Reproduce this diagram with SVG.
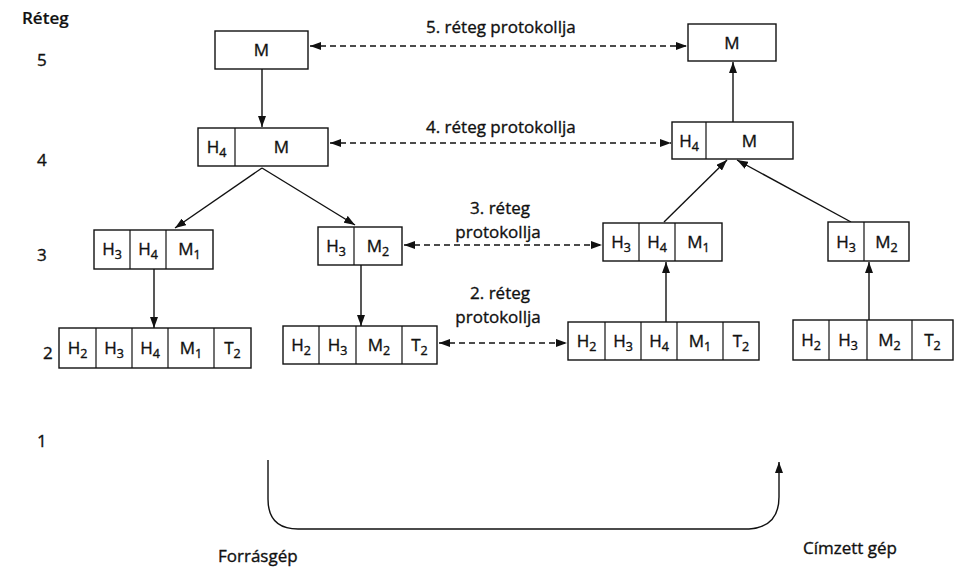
<svg xmlns="http://www.w3.org/2000/svg" width="958" height="567" viewBox="0 0 958 567">
  <style>
    text { font-family: "Open Sans", "Noto Sans", "DejaVu Sans", sans-serif; font-size: 17px; fill: #111; stroke: #111; stroke-width: 0.35; }
    .c { text-anchor: middle; }
    .bold { font-weight: 600; stroke-width: 0.2; }
    .sub { font-size: 12.5px; }
    .box { fill: #fff; stroke: #111; stroke-width: 1.4; }
    .div { stroke: #111; stroke-width: 1.2; }
    .ln { fill: none; stroke: #111; stroke-width: 1.4; }
    .dash { fill: none; stroke: #111; stroke-width: 1.3; stroke-dasharray: 6 4; }
  </style>
  <defs>
    <marker id="ah" viewBox="0 0 11 8" refX="11" refY="4" markerWidth="11" markerHeight="8" markerUnits="userSpaceOnUse" orient="auto">
      <path d="M0,0 L11,4 L0,8 Z" fill="#111"/>
    </marker>
    <marker id="ahs" viewBox="0 0 11 8" refX="0" refY="4" markerWidth="11" markerHeight="8" markerUnits="userSpaceOnUse" orient="auto">
      <path d="M11,0 L0,4 L11,8 Z" fill="#111"/>
    </marker>
  </defs>

  <!-- layer axis -->
  <g id="axis">
    <text class="bold" x="22" y="24">Réteg</text>
    <text x="37" y="66">5</text>
    <text x="37" y="166">4</text>
    <text x="37" y="261">3</text>
    <text x="43" y="359">2</text>
    <text x="37" y="447">1</text>
  </g>

  <!-- connectors -->
  <g id="connectors">
    <line class="ln" x1="262" y1="69" x2="262" y2="127" marker-end="url(#ah)"/>
    <line class="ln" x1="262" y1="168" x2="175" y2="228" marker-end="url(#ah)"/>
    <line class="ln" x1="262" y1="168" x2="355" y2="225" marker-end="url(#ah)"/>
    <line class="ln" x1="154" y1="269" x2="154" y2="328" marker-end="url(#ah)"/>
    <line class="ln" x1="361" y1="265" x2="361" y2="326" marker-end="url(#ah)"/>
    <line class="ln" x1="666" y1="322" x2="666" y2="262" marker-end="url(#ah)"/>
    <line class="ln" x1="869" y1="320" x2="869" y2="262" marker-end="url(#ah)"/>
    <line class="ln" x1="664" y1="222" x2="727" y2="160" marker-end="url(#ah)"/>
    <line class="ln" x1="851" y1="222" x2="737" y2="160" marker-end="url(#ah)"/>
    <line class="ln" x1="733" y1="122" x2="733" y2="62" marker-end="url(#ah)"/>
    <line class="dash" x1="310" y1="46" x2="687" y2="46" marker-start="url(#ahs)" marker-end="url(#ah)"/>
    <line class="dash" x1="330" y1="143" x2="671" y2="143" marker-start="url(#ahs)" marker-end="url(#ah)"/>
    <line class="dash" x1="404" y1="245" x2="602" y2="245" marker-start="url(#ahs)" marker-end="url(#ah)"/>
    <line class="dash" x1="439" y1="343" x2="567" y2="343" marker-start="url(#ahs)" marker-end="url(#ah)"/>
    <path class="ln" d="M268,460 V499 Q268,529 298,529 H749 Q779,527 779,497 V462" marker-end="url(#ah)"/>
  </g>

  <!-- protocol labels -->
  <g id="labels">
    <text x="426" y="33">5. réteg protokollja</text>
    <text x="426" y="133">4. réteg protokollja</text>
    <text class="c" x="500" y="214">3. réteg</text>
    <text class="c" x="498" y="238">protokollja</text>
    <text class="c" x="500" y="299">2. réteg</text>
    <text class="c" x="498" y="323">protokollja</text>
    <text x="218" y="562">Forrásgép</text>
    <text x="803" y="554">Címzett gép</text>
  </g>

  <!-- source host -->
  <g id="src-l5">
    <rect class="box" x="215" y="31" width="93" height="38"/>
    <text class="c" x="261.5" y="56">M</text>
  </g>
  <g id="src-l4">
    <rect class="box" x="198" y="128" width="130" height="38"/>
    <line class="div" x1="235" y1="128" x2="235" y2="166"/>
    <text class="c" x="216.5" y="153">H<tspan class="sub" dy="4">4</tspan></text>
    <text class="c" x="281.5" y="153">M</text>
  </g>
  <g id="src-l3a">
    <rect class="box" x="94" y="230" width="119" height="39"/>
    <line class="div" x1="130" y1="230" x2="130" y2="269"/>
    <line class="div" x1="166" y1="230" x2="166" y2="269"/>
    <text class="c" x="112" y="255">H<tspan class="sub" dy="4">3</tspan></text>
    <text class="c" x="148" y="255">H<tspan class="sub" dy="4">4</tspan></text>
    <text class="c" x="189.5" y="255">M<tspan class="sub" dy="4">1</tspan></text>
  </g>
  <g id="src-l3b">
    <rect class="box" x="318" y="227" width="84" height="38"/>
    <line class="div" x1="354" y1="227" x2="354" y2="265"/>
    <text class="c" x="336" y="252">H<tspan class="sub" dy="4">3</tspan></text>
    <text class="c" x="378" y="252">M<tspan class="sub" dy="4">2</tspan></text>
  </g>
  <g id="src-l2a">
    <rect class="box" x="59" y="328" width="192" height="40"/>
    <line class="div" x1="96" y1="328" x2="96" y2="368"/>
    <line class="div" x1="132" y1="328" x2="132" y2="368"/>
    <line class="div" x1="168" y1="328" x2="168" y2="368"/>
    <line class="div" x1="214" y1="328" x2="214" y2="368"/>
    <text class="c" x="77.5" y="354">H<tspan class="sub" dy="4">2</tspan></text>
    <text class="c" x="114" y="354">H<tspan class="sub" dy="4">3</tspan></text>
    <text class="c" x="150" y="354">H<tspan class="sub" dy="4">4</tspan></text>
    <text class="c" x="191" y="354">M<tspan class="sub" dy="4">1</tspan></text>
    <text class="c" x="232.5" y="354">T<tspan class="sub" dy="4">2</tspan></text>
  </g>
  <g id="src-l2b">
    <rect class="box" x="283" y="326" width="154" height="38"/>
    <line class="div" x1="319" y1="326" x2="319" y2="364"/>
    <line class="div" x1="356" y1="326" x2="356" y2="364"/>
    <line class="div" x1="402" y1="326" x2="402" y2="364"/>
    <text class="c" x="301" y="351">H<tspan class="sub" dy="4">2</tspan></text>
    <text class="c" x="337.5" y="351">H<tspan class="sub" dy="4">3</tspan></text>
    <text class="c" x="379" y="351">M<tspan class="sub" dy="4">2</tspan></text>
    <text class="c" x="419.5" y="351">T<tspan class="sub" dy="4">2</tspan></text>
  </g>

  <!-- destination host -->
  <g id="dst-l5">
    <rect class="box" x="688" y="24" width="88" height="37"/>
    <text class="c" x="732" y="48.5">M</text>
  </g>
  <g id="dst-l4">
    <rect class="box" x="672" y="122" width="121" height="37"/>
    <line class="div" x1="706" y1="122" x2="706" y2="159"/>
    <text class="c" x="689" y="146.5">H<tspan class="sub" dy="4">4</tspan></text>
    <text class="c" x="749.5" y="146.5">M</text>
  </g>
  <g id="dst-l3a">
    <rect class="box" x="603" y="223" width="119" height="38"/>
    <line class="div" x1="639" y1="223" x2="639" y2="261"/>
    <line class="div" x1="675" y1="223" x2="675" y2="261"/>
    <text class="c" x="621" y="248">H<tspan class="sub" dy="4">3</tspan></text>
    <text class="c" x="657" y="248">H<tspan class="sub" dy="4">4</tspan></text>
    <text class="c" x="698.5" y="248">M<tspan class="sub" dy="4">1</tspan></text>
  </g>
  <g id="dst-l3b">
    <rect class="box" x="828" y="222" width="81" height="39"/>
    <line class="div" x1="864" y1="222" x2="864" y2="261"/>
    <text class="c" x="846" y="247.5">H<tspan class="sub" dy="4">3</tspan></text>
    <text class="c" x="886.5" y="247.5">M<tspan class="sub" dy="4">2</tspan></text>
  </g>
  <g id="dst-l2a">
    <rect class="box" x="568" y="322" width="191" height="38"/>
    <line class="div" x1="605" y1="322" x2="605" y2="360"/>
    <line class="div" x1="641" y1="322" x2="641" y2="360"/>
    <line class="div" x1="677" y1="322" x2="677" y2="360"/>
    <line class="div" x1="723" y1="322" x2="723" y2="360"/>
    <text class="c" x="586.5" y="347">H<tspan class="sub" dy="4">2</tspan></text>
    <text class="c" x="623" y="347">H<tspan class="sub" dy="4">3</tspan></text>
    <text class="c" x="659" y="347">H<tspan class="sub" dy="4">4</tspan></text>
    <text class="c" x="700" y="347">M<tspan class="sub" dy="4">1</tspan></text>
    <text class="c" x="741" y="347">T<tspan class="sub" dy="4">2</tspan></text>
  </g>
  <g id="dst-l2b">
    <rect class="box" x="793" y="320" width="160" height="40"/>
    <line class="div" x1="829" y1="320" x2="829" y2="360"/>
    <line class="div" x1="867" y1="320" x2="867" y2="360"/>
    <line class="div" x1="912" y1="320" x2="912" y2="360"/>
    <text class="c" x="811" y="346">H<tspan class="sub" dy="4">2</tspan></text>
    <text class="c" x="848" y="346">H<tspan class="sub" dy="4">3</tspan></text>
    <text class="c" x="889.5" y="346">M<tspan class="sub" dy="4">2</tspan></text>
    <text class="c" x="932.5" y="346">T<tspan class="sub" dy="4">2</tspan></text>
  </g>
</svg>
